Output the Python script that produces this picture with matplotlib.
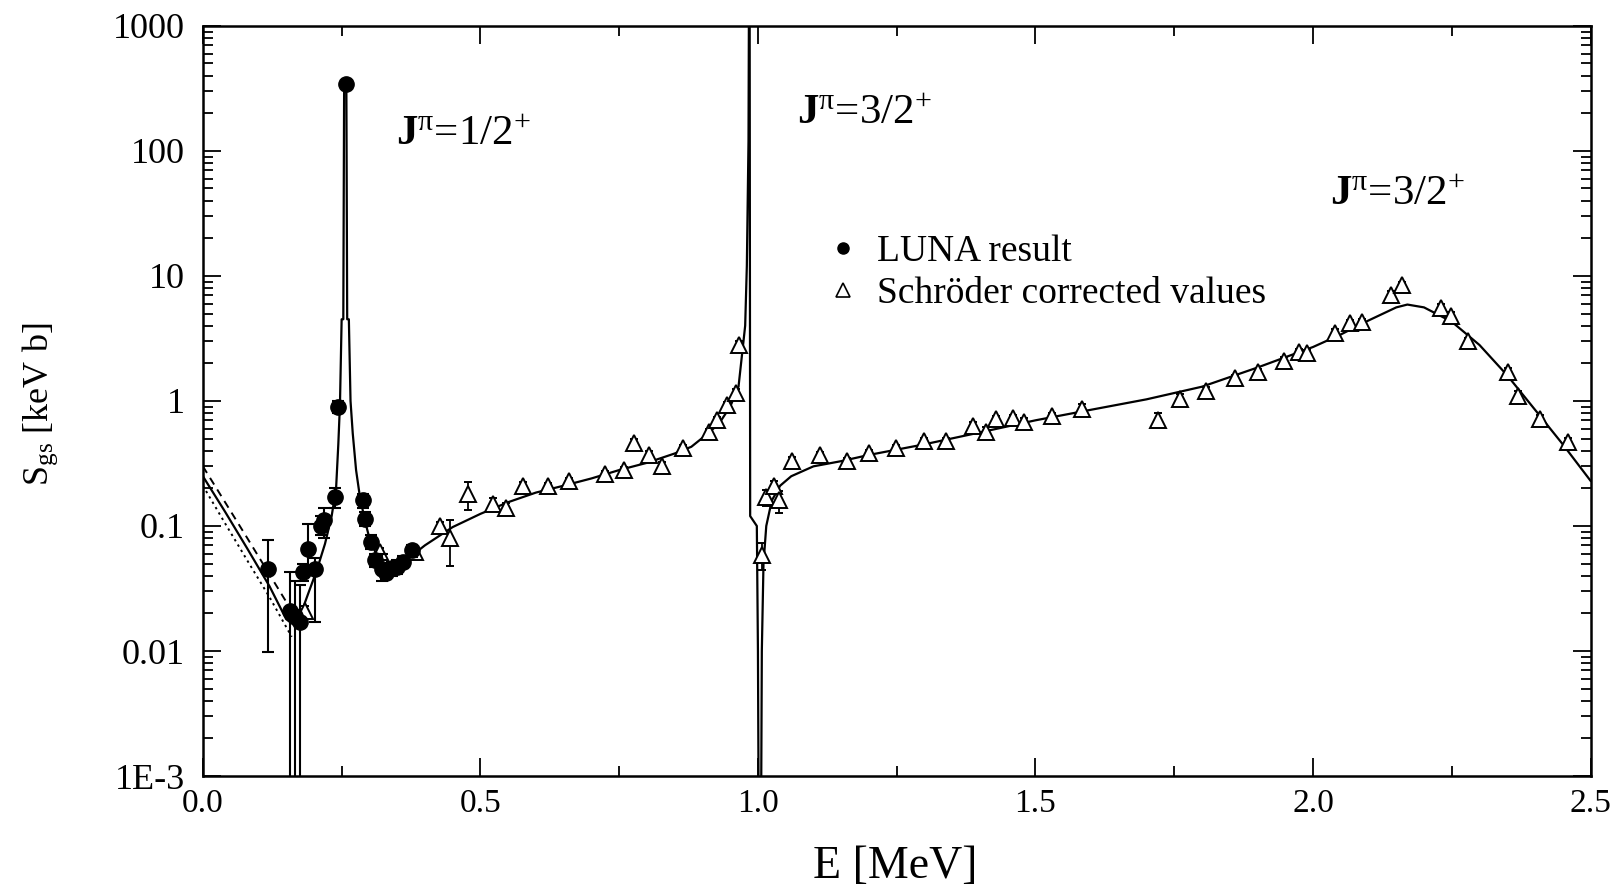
import numpy as np
import matplotlib
matplotlib.use("Agg")
import matplotlib.pyplot as plt
from matplotlib.lines import Line2D

plt.rcParams["font.family"] = ["Liberation Serif", "DejaVu Serif"]
plt.rcParams["mathtext.fontset"] = "custom"
plt.rcParams["mathtext.rm"] = "Liberation Serif"
plt.rcParams["mathtext.it"] = "Liberation Serif:italic"
plt.rcParams["mathtext.bf"] = "Liberation Serif:bold"

# LUNA data (E in MeV, S in keV b) with error bar ends
luna_E = [0.118, 0.157, 0.166, 0.175, 0.180, 0.189, 0.202, 0.212, 0.218, 0.238,
          0.244, 0.257, 0.288, 0.292, 0.302, 0.310, 0.322, 0.330, 0.340, 0.350,
          0.360, 0.376]
luna_S = [0.045, 0.021, 0.019, 0.017, 0.043, 0.066, 0.045, 0.100, 0.112, 0.170,
          0.90, 340.0, 0.160, 0.114, 0.074, 0.053, 0.045, 0.042, 0.046, 0.047,
          0.052, 0.064]
luna_low = [0.0098, 1e-5, 1e-5, 1e-5, 0.036, 0.048, 0.017, 0.085, 0.080, 0.140,
            0.80, 330.0, 0.140, 0.100, 0.065, 0.047, 0.036, 0.038, 0.040, 0.041,
            0.046, 0.056]
luna_high = [0.077, 0.043, 0.036, 0.034, 0.050, 0.103, 0.055, 0.120, 0.140, 0.200,
             1.00, 350.0, 0.180, 0.130, 0.085, 0.060, 0.060, 0.047, 0.052, 0.053,
             0.058, 0.070]

# Schroeder corrected values
sch_E = [0.184, 0.319, 0.382, 0.427, 0.446, 0.477, 0.522, 0.546, 0.576, 0.621,
         0.660, 0.725, 0.759, 0.777, 0.803, 0.828, 0.865, 0.912, 0.927, 0.945,
         0.960, 0.966, 1.007, 1.014, 1.029, 1.038, 1.061, 1.111, 1.160, 1.200,
         1.249, 1.300, 1.339, 1.387, 1.411, 1.428, 1.460, 1.480, 1.529, 1.583,
         1.720, 1.760, 1.808, 1.859, 1.900, 1.948, 1.974, 1.990, 2.040, 2.067,
         2.088, 2.140, 2.160, 2.230, 2.249, 2.280, 2.351, 2.370, 2.409, 2.459]
sch_S = [0.021, 0.062, 0.062, 0.100, 0.080, 0.180, 0.150, 0.140, 0.210, 0.210,
         0.230, 0.260, 0.280, 0.460, 0.370, 0.300, 0.420, 0.560, 0.700, 0.920,
         1.15, 2.80, 0.059, 0.170, 0.210, 0.160, 0.330, 0.370, 0.330, 0.380,
         0.420, 0.480, 0.480, 0.630, 0.560, 0.720, 0.730, 0.680, 0.760, 0.870,
         0.710, 1.03, 1.20, 1.53, 1.70, 2.10, 2.45, 2.40, 3.50, 4.20,
         4.30, 7.00, 8.50, 5.50, 4.80, 3.00, 1.70, 1.10, 0.720, 0.470]
sch_relerr = [0.10, 0.08, 0.08, 0.08, 0.40, 0.25, 0.12, 0.10, 0.08, 0.06,
              0.06, 0.06, 0.06, 0.08, 0.08, 0.08, 0.06, 0.06, 0.06, 0.06,
              0.08, 0.08, 0.25, 0.15, 0.10, 0.20, 0.08, 0.06, 0.06, 0.06,
              0.06, 0.06, 0.06, 0.08, 0.10, 0.06, 0.06, 0.08, 0.06, 0.08,
              0.12, 0.10, 0.08, 0.06, 0.06, 0.06, 0.06, 0.06, 0.08, 0.06,
              0.06, 0.08, 0.06, 0.08, 0.08, 0.06, 0.08, 0.10, 0.08, 0.08]

# R-matrix fit curve
fit_E = [0.000, 0.040, 0.080, 0.120, 0.150, 0.165, 0.175, 0.190, 0.205, 0.220,
         0.232, 0.240, 0.244, 0.247, 0.250, 0.253, 0.2545, 0.2585, 0.260, 0.263,
         0.266, 0.270, 0.276, 0.283, 0.292, 0.300, 0.312, 0.325, 0.340, 0.355,
         0.370, 0.400, 0.450, 0.500, 0.550, 0.600, 0.650, 0.700, 0.750, 0.800,
         0.850, 0.880, 0.910, 0.930, 0.950, 0.965, 0.972, 0.977, 0.980, 0.983,
         0.984, 0.985, 0.986, 0.998, 1.000, 1.002, 1.005, 1.007, 1.010, 1.015,
         1.025, 1.040, 1.060, 1.100, 1.150, 1.200, 1.300, 1.400, 1.500, 1.600,
         1.700, 1.800, 1.900, 2.000, 2.050, 2.100, 2.150, 2.170, 2.200, 2.250,
         2.300, 2.350, 2.400, 2.450, 2.500]
fit_S = [0.25, 0.13, 0.066, 0.033, 0.0180, 0.0160, 0.019, 0.029, 0.044, 0.072,
         0.12, 0.20, 0.45, 0.95, 4.5, 4.5, 340.0, 340.0, 4.5, 4.5,
         1.0, 0.55, 0.28, 0.17, 0.11, 0.080, 0.060, 0.050, 0.046, 0.048,
         0.055, 0.070, 0.098, 0.125, 0.155, 0.185, 0.210, 0.240, 0.280, 0.320,
         0.380, 0.430, 0.550, 0.660, 0.900, 1.30, 2.50, 4.0, 12.0, 120.0,
         3000.0, 3000.0, 0.12, 0.10, 0.010, 1e-4, 1e-4, 0.010, 0.050, 0.100,
         0.160, 0.210, 0.250, 0.300, 0.330, 0.370, 0.450, 0.560, 0.700, 0.850,
         1.03, 1.30, 1.85, 2.70, 3.40, 4.40, 5.60, 5.90, 5.60, 4.30,
         2.80, 1.60, 0.850, 0.450, 0.230]

# uncertainty band at low energy
band_E = [0.000, 0.040, 0.080, 0.120, 0.160]
band_hi = [0.30, 0.155, 0.080, 0.041, 0.021]
band_lo = [0.21, 0.105, 0.053, 0.027, 0.013]

ytick_vals = [1e-3, 1e-2, 1e-1, 1, 10, 100, 1000]
ytick_labels = ["1E-3", "0.01", "0.1", "1", "10", "100", "1000"]
xtick_vals = [0.0, 0.5, 1.0, 1.5, 2.0, 2.5]

fig = plt.figure(figsize=(16.23, 8.9), dpi=100)
ax = fig.add_axes([0.125, 0.128, 0.855, 0.843])

ax.plot(fit_E, fit_S, color="black", lw=1.6, zorder=2)
ax.plot(band_E, band_hi, color="black", lw=1.4, ls=(0, (4, 3)), zorder=2)
ax.plot(band_E, band_lo, color="black", lw=1.4, ls=(0, (1.2, 2)), zorder=2)

luna_S_arr = np.array(luna_S)
yerr_l = [luna_S_arr - np.array(luna_low), np.array(luna_high) - luna_S_arr]
ax.errorbar(luna_E, luna_S, yerr=yerr_l, fmt="o", color="black", ms=11,
            elinewidth=1.5, capsize=4, capthick=1.5, zorder=4)

sch_S_arr = np.array(sch_S)
sch_err = sch_S_arr * np.array(sch_relerr)
ax.errorbar(sch_E, sch_S, yerr=sch_err, fmt="^", mfc="white", mec="black",
            mew=1.4, ms=12, ecolor="black", elinewidth=1.3, capsize=3,
            capthick=1.3, zorder=3)

ax.set_yscale("log")
ax.set_xlim(0, 2.5)
ax.set_ylim(1e-3, 1000)
ax.set_yticks(ytick_vals)
ax.set_yticklabels(ytick_labels)
ax.set_xticks(xtick_vals)
ax.set_xticklabels([f"{v:.1f}" for v in xtick_vals])
ax.set_xticks([0.25, 0.75, 1.25, 1.75, 2.25], minor=True)
ax.yaxis.set_minor_locator(matplotlib.ticker.LogLocator(base=10, subs=np.arange(2, 10)))
ax.yaxis.set_minor_formatter(matplotlib.ticker.NullFormatter())

ax.tick_params(which="both", direction="in", top=True, right=True, width=1.3)
ax.tick_params(which="major", length=13)
ax.tick_params(which="minor", length=7)
ax.tick_params(axis="y", which="major", labelsize=26, pad=13)
ax.tick_params(axis="x", which="major", labelsize=24, pad=9)
for sp in ax.spines.values():
    sp.set_linewidth(1.8)

ax.set_xlabel("E [MeV]", fontsize=33)
ax.xaxis.set_label_coords(0.4986, -0.093)
ax.set_ylabel(r"S$_{\mathrm{gs}}$ [keV b]", fontsize=26)
ax.yaxis.set_label_coords(-0.103, 0.496)

ax.text(0.348, 112, r"$\mathbf{J}^{\mathrm{\pi}}$=1/2$^{+}$", fontsize=31, va="baseline")
ax.text(1.070, 164, r"$\mathbf{J}^{\mathrm{\pi}}$=3/2$^{+}$", fontsize=31, va="baseline")
ax.text(2.030, 37, r"$\mathbf{J}^{\mathrm{\pi}}$=3/2$^{+}$", fontsize=31, va="baseline")

handles = [Line2D([], [], ls="none", marker="o", color="black", ms=8),
           Line2D([], [], ls="none", marker="^", mfc="white", mec="black", mew=1.2, ms=10)]
ax.legend(handles, ["LUNA result", "Schröder corrected values"], loc="upper left",
          bbox_to_anchor=(0.448, 0.722), frameon=False, fontsize=27,
          handlelength=1.0, handletextpad=0.4, labelspacing=0.2,
          borderaxespad=0, borderpad=0)

fig.savefig("out.png", dpi=100)
